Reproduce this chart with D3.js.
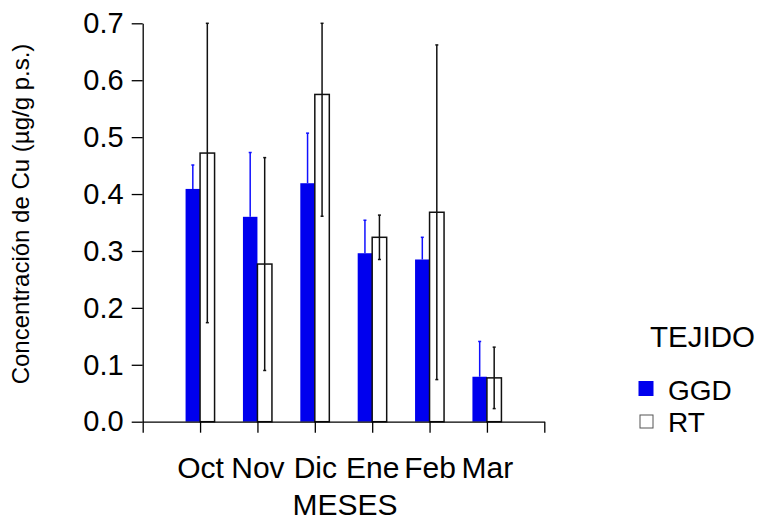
<!DOCTYPE html>
<html>
<head>
<meta charset="utf-8">
<script src="https://cdn.jsdelivr.net/npm/d3@7"></script>
<style>
    html, body { margin: 0; padding: 0; background: #fff; }
    svg { display: block; font-family: "Liberation Sans", Arial, sans-serif; }
</style>
</head>
<body>
<div id="chart"></div>
<script>
// Meses y valores medios de Cu (µg/g p.s.) por tejido, con su desviación
const months = ['Oct', 'Nov', 'Dic', 'Ene', 'Feb', 'Mar'];
const ggdMean = [0.409, 0.360, 0.419, 0.296, 0.285, 0.079];
const ggdSd = [0.042, 0.113, 0.088, 0.058, 0.039, 0.062];
const rtMean = [0.472, 0.277, 0.575, 0.324, 0.368, 0.077];
const rtSd = [0.298, 0.187, 0.214, 0.039, 0.294, 0.054];
const yTicks = [0, 0.1, 0.2, 0.3, 0.4, 0.5, 0.6, 0.7];
const legendItems = ['GGD', 'RT'];

/**
 * Bar chart of Cu concentration per month, GGD vs RT
 */
function createChart() {
    const width = 760;
    const height = 521;
    const blue = '#0000ee';

    const svg = d3.select('#chart')
        .append('svg')
        .attr('width', width)
        .attr('height', height);

    svg.append('rect')
        .attr('width', width)
        .attr('height', height)
        .attr('fill', '#fff');

    // x: month i sits at position i + 1 on a 0..7 axis
    const x = d3.scaleLinear()
        .domain([0, months.length + 1])
        .range([142.7, 544.3]);

    const y = d3.scaleLinear()
        .domain([0, 0.7])
        .range([421.7, 23.3]);

    const barW = 14.5;
    const yMax = y.domain()[1];

    // GGD bars
    svg.append('g')
        .selectAll('rect')
        .data(ggdMean)
        .join('rect')
        .attr('x', (d, i) => x(i + 1) - barW)
        .attr('y', d => y(d))
        .attr('width', barW)
        .attr('height', d => y(0) - y(d))
        .attr('fill', blue);

    // GGD error bars (only the upper half shows above the bar)
    const ggdErr = svg.append('g')
        .attr('stroke', '#1010ff')
        .attr('stroke-width', 1.5);

    ggdMean.forEach((m, i) => {
        const cx = x(i + 1) - barW / 2;
        const top = y(Math.min(m + ggdSd[i], yMax));
        ggdErr.append('line')
            .attr('x1', cx).attr('x2', cx)
            .attr('y1', y(m)).attr('y2', top);
        ggdErr.append('line')
            .attr('x1', cx - 1.5).attr('x2', cx + 1.5)
            .attr('y1', top).attr('y2', top);
    });

    // RT bars
    svg.append('g')
        .selectAll('rect')
        .data(rtMean)
        .join('rect')
        .attr('x', (d, i) => x(i + 1))
        .attr('y', d => y(d))
        .attr('width', barW)
        .attr('height', d => y(0) - y(d))
        .attr('fill', '#fff')
        .attr('stroke', '#111')
        .attr('stroke-width', 1.5);

    // RT error bars, clipped at the top of the axis
    const rtErr = svg.append('g')
        .attr('stroke', '#111')
        .attr('stroke-width', 1.5);

    rtMean.forEach((m, i) => {
        const cx = x(i + 1) + barW / 2;
        const top = y(Math.min(m + rtSd[i], yMax));
        const bot = y(Math.max(m - rtSd[i], 0));
        rtErr.append('line')
            .attr('x1', cx).attr('x2', cx)
            .attr('y1', bot).attr('y2', top);
        [top, bot].forEach(yy => {
            rtErr.append('line')
                .attr('x1', cx - 1.5).attr('x2', cx + 1.5)
                .attr('y1', yy).attr('y2', yy);
        });
    });

    // axes
    const yAxis = svg.append('g')
        .attr('transform', `translate(${x(0)},0)`)
        .call(d3.axisLeft(y)
            .tickValues(yTicks)
            .tickFormat(d3.format('.1f'))
            .tickSize(11)
            .tickSizeOuter(0)
            .tickPadding(8));

    const xAxis = svg.append('g')
        .attr('transform', `translate(0,${y(0)})`)
        .call(d3.axisBottom(x)
            .tickValues(d3.range(0, months.length + 2))
            .tickFormat(d => months[d - 1] || '')
            .tickSize(11)
            .tickSizeOuter(0)
            .tickPadding(24));

    [yAxis, xAxis].forEach(ax => {
        ax.selectAll('path, line')
            .attr('stroke', '#000')
            .attr('stroke-width', 1.3);
        ax.selectAll('text')
            .attr('fill', '#000')
            .style('font-size', '29px')
            .style('font-family', '"Liberation Sans", Arial, sans-serif');
    });
    xAxis.selectAll('text').style('font-size', '30px');

    // axis titles
    svg.append('text')
        .attr('transform', 'translate(29,214) rotate(-90)')
        .attr('text-anchor', 'middle')
        .style('font-size', '24px')
        .text('Concentración de Cu (µg/g p.s.)');

    svg.append('text')
        .attr('x', 345)
        .attr('y', 515)
        .attr('text-anchor', 'middle')
        .style('font-size', '30px')
        .text('MESES');

    // legend
    const legend = svg.append('g');

    legend.append('text')
        .attr('x', 650)
        .attr('y', 346.5)
        .style('font-size', '29.5px')
        .text('TEJIDO');

    legend.append('rect')
        .attr('x', 638.5)
        .attr('y', 381)
        .attr('width', 15)
        .attr('height', 15)
        .attr('fill', blue);

    legend.append('rect')
        .attr('x', 640)
        .attr('y', 415)
        .attr('width', 13)
        .attr('height', 13)
        .attr('fill', '#fff')
        .attr('stroke', '#555')
        .attr('stroke-width', 1);

    legend.selectAll('text.item')
        .data(legendItems)
        .join('text')
        .attr('class', 'item')
        .attr('x', 668)
        .attr('y', (d, i) => 400 + i * 31.7)
        .style('font-size', '28px')
        .text(d => d);
}

createChart();
</script>
</body>
</html>
